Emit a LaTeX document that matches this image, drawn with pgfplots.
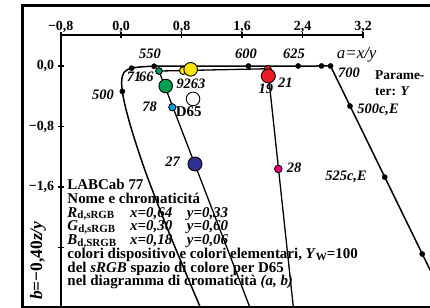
\documentclass[border=0pt]{standalone}
\usepackage{pgfplots}
\pgfplotsset{compat=1.18}
\usepackage{fontspec}
\setmainfont{Liberation Serif}
\definecolor{gC}{RGB}{0,158,80}
\definecolor{yC}{RGB}{255,230,0}
\definecolor{rC}{RGB}{237,28,36}
\definecolor{bC}{RGB}{46,49,146}
\definecolor{cC}{RGB}{0,160,225}
\definecolor{mC}{RGB}{230,0,126}
\newcommand{\lab}{\bfseries\itshape\fontsize{14.5}{14.5}\selectfont}
\newcommand{\txt}{\bfseries\fontsize{15}{15}\selectfont}
\newcommand{\sbs}[1]{\raisebox{-1.8bp}{\fontsize{11}{11}\selectfont\upshape #1}}
\begin{document}
\begin{tikzpicture}
\begin{axis}[
  at={(0,0)}, anchor=south west,
  scale only axis, width=369.3bp, height=271.4bp,
  xmin=-0.8, xmax=4.085, ymin=-3.18, ymax=0.41,
  axis x line*=top, axis y line*=left,
  axis line style={draw=none},
  xtick={-0.8,0,0.8,1.6,2.4,3.2},
  xticklabels={{−0,8},{0,0},{0,8},{1,6},{2,4},{3,2}},
  ytick={-2.4,-1.6,-0.8,0},
  yticklabels={{},{−1,6},{−0,8},{0,0}},
  tick align=center, major tick length=6bp,
  tick style={black, line width=1.6bp},
  ticklabel style={font=\bfseries\fontsize{14}{14}\selectfont},
  xticklabel style={yshift=-4bp},
  clip mode=individual,
]
% spectral locus (lower part)
\addplot[black, mark=none, line width=1.5bp, smooth, tension=0.5] coordinates {
(1.2627,-3.703) (0.688,-2.339) (0.3423,-1.456) (0.1539,-0.8944) (0.0569,-0.5465)
(0.0152,-0.3368) (0.00596,-0.2085) (0.01853,-0.1258) (0.0479,-0.0734) (0.0891,-0.0441) (0.1382,-0.0289)};
% spectral locus (upper part) and purple line
\addplot[black, mark=none, line width=1.5bp] coordinates {
(0.1382,-0.0289) (0.1920,-0.0196) (0.2468,-0.0131) (0.3044,-0.0085) (0.3670,-0.0055)
(0.4356,-0.0035) (0.5119,-0.0023) (0.5974,-0.0015) (0.8006,-0.0009) (1.0532,-0.0007)
(1.356,-0.0006) (1.6832,-0.0005) (1.9934,-0.0004) (2.2429,-0.0003) (2.3408,-0.0002)
(2.4243,-0.0002) (2.5596,-0.0001) (2.6496,0) (2.7037,0) (2.7510,0) (2.7693,0) (4.38,-3.3)};
% device gamut lines
\addplot[black, mark=none, line width=1.3bp] coordinates {
(2.5,-5.267) (0.5,-0.0667) (1.939,-0.0364) (2.5,-5.267)};
% black dots
\addplot[only marks, mark=*, mark size=2.6bp, black] coordinates {
(0.0152,-0.3368) (0.1382,-0.0289) (0.4356,-0.0035) (1.6832,0) (2.3408,0)
(2.6496,0) (2.7693,0) (3.026,-0.530) (3.486,-1.470) (3.982,-2.487)};
% coloured samples
\addplot[only marks, mark=*, mark size=3.8bp, mark options={draw=black, fill=yC, line width=0.9bp}] coordinates {(0.821,-0.062)};
\addplot[only marks, mark=*, mark size=6.8bp, mark options={draw=black, fill=yC, line width=0.9bp}] coordinates {(0.919,-0.044)};
\addplot[only marks, mark=*, mark size=3.4bp, mark options={draw=black, fill=gC, line width=0.9bp}] coordinates {(0.5,-0.0667)};
\addplot[only marks, mark=*, mark size=6.8bp, mark options={draw=black, fill=gC, line width=0.9bp}] coordinates {(0.589,-0.265)};
\addplot[only marks, mark=*, mark size=3.4bp, mark options={draw=black, fill=rC, line width=0.9bp}] coordinates {(1.939,-0.0364)};
\addplot[only marks, mark=*, mark size=7bp, mark options={draw=black, fill=rC, line width=0.9bp}] coordinates {(1.946,-0.132)};
\addplot[only marks, mark=*, mark size=6.8bp, mark options={draw=black, fill=white, line width=0.9bp}] coordinates {(0.9505,-0.4356)};
\addplot[only marks, mark=*, mark size=3.6bp, mark options={draw=black, fill=cC, line width=0.9bp}] coordinates {(0.676,-0.546)};
\addplot[only marks, mark=*, mark size=7bp, mark options={draw=black, fill=bC, line width=0.9bp}] coordinates {(0.976,-1.296)};
\addplot[only marks, mark=*, mark size=3.8bp, mark options={draw=black, fill=mC, line width=0.9bp}] coordinates {(2.078,-1.362)};
% axis lines and frame
\draw[line width=2bp] (axis cs:3.2,0.41) -- (axis cs:-0.8,0.41) -- (axis cs:-0.8,-3.18);
\draw[line width=3bp] (axis cs:4.085,0.803) -- (axis cs:-1.306,0.803) -- (axis cs:-1.306,-3.188) -- (axis cs:4.085,-3.188);
% labels
\begin{scope}[every node/.style={inner sep=0pt}]
\node at (axis cs:0.381,0.159) {\lab 550};
\node at (axis cs:1.651,0.159) {\lab 600};
\node at (axis cs:2.286,0.168) {\lab 625};
\node at (axis cs:3.115,0.146) {\itshape\fontsize{17}{17}\selectfont a=x/y};
\node at (axis cs:3.013,-0.089) {\lab 700};
\node[anchor=base west] at (axis cs:3.357,-0.175) {\bfseries\fontsize{13.5}{13.5}\selectfont Parame-};
\node[anchor=base west] at (axis cs:3.357,-0.395) {\bfseries\fontsize{13.5}{13.5}\selectfont ter: \textit{Y}};
\node at (axis cs:3.397,-0.582) {\lab 500c,E};
\node at (axis cs:2.974,-1.464) {\lab 525c,E};
\node at (axis cs:2.286,-1.349) {\lab 28};
\node at (axis cs:0.679,-1.266) {\lab 27};
\node at (axis cs:-0.241,-0.384) {\lab 500};
\node at (axis cs:0.172,-0.146) {\lab 71};
\node at (axis cs:0.333,-0.146) {\lab 66};
\node at (axis cs:0.923,-0.229) {\lab 9263};
\node at (axis cs:0.377,-0.538) {\lab 78};
\node at (axis cs:0.893,-0.605) {\txt D65};
\node at (axis cs:1.915,-0.295) {\lab 19};
\node at (axis cs:2.173,-0.221) {\lab 21};
\node[rotate=90] at (axis cs:-1.10,-2.575) {\bfseries\fontsize{17.5}{17.5}\selectfont\textit{b}=−0,40\textit{z/y}};
\node[anchor=base west] at (axis cs:-0.713,-1.640) {\txt LABCab 77};
\node[anchor=base west] at (axis cs:-0.713,-1.820) {\txt Nome e chromaticitá};
\node[anchor=base west] at (axis cs:-0.713,-2.000) {\txt\makebox[62.7bp][l]{\textit{R}\sbs{d,sRGB}}\makebox[56.7bp][l]{\textit{x=0,64}}\textit{y=0,33}};
\node[anchor=base west] at (axis cs:-0.713,-2.180) {\txt\makebox[62.7bp][l]{\textit{G}\sbs{d,sRGB}}\makebox[56.7bp][l]{\textit{x=0,30}}\textit{y=0,60}};
\node[anchor=base west] at (axis cs:-0.713,-2.360) {\txt\makebox[62.7bp][l]{\textit{B}\sbs{d,SRGB}}\makebox[56.7bp][l]{\textit{x=0,18}}\textit{y=0,06}};
\node[anchor=base west] at (axis cs:-0.713,-2.552) {\txt colori dispositivo e colori elementari, \textit{Y}\sbs{W}=100};
\node[anchor=base west] at (axis cs:-0.713,-2.730) {\txt del \textit{sRGB} spazio di colore per D65};
\node[anchor=base west] at (axis cs:-0.713,-2.908) {\txt nel diagramma di cromaticità \textit{(a, b)}};
\end{scope}
\coordinate (bbA) at (axis cs:-1.603,0.873);
\coordinate (bbB) at (axis cs:4.085,-3.201);
\end{axis}
\pgfresetboundingbox
\path[use as bounding box] (bbA) rectangle (bbB);
\end{tikzpicture}
\end{document}
